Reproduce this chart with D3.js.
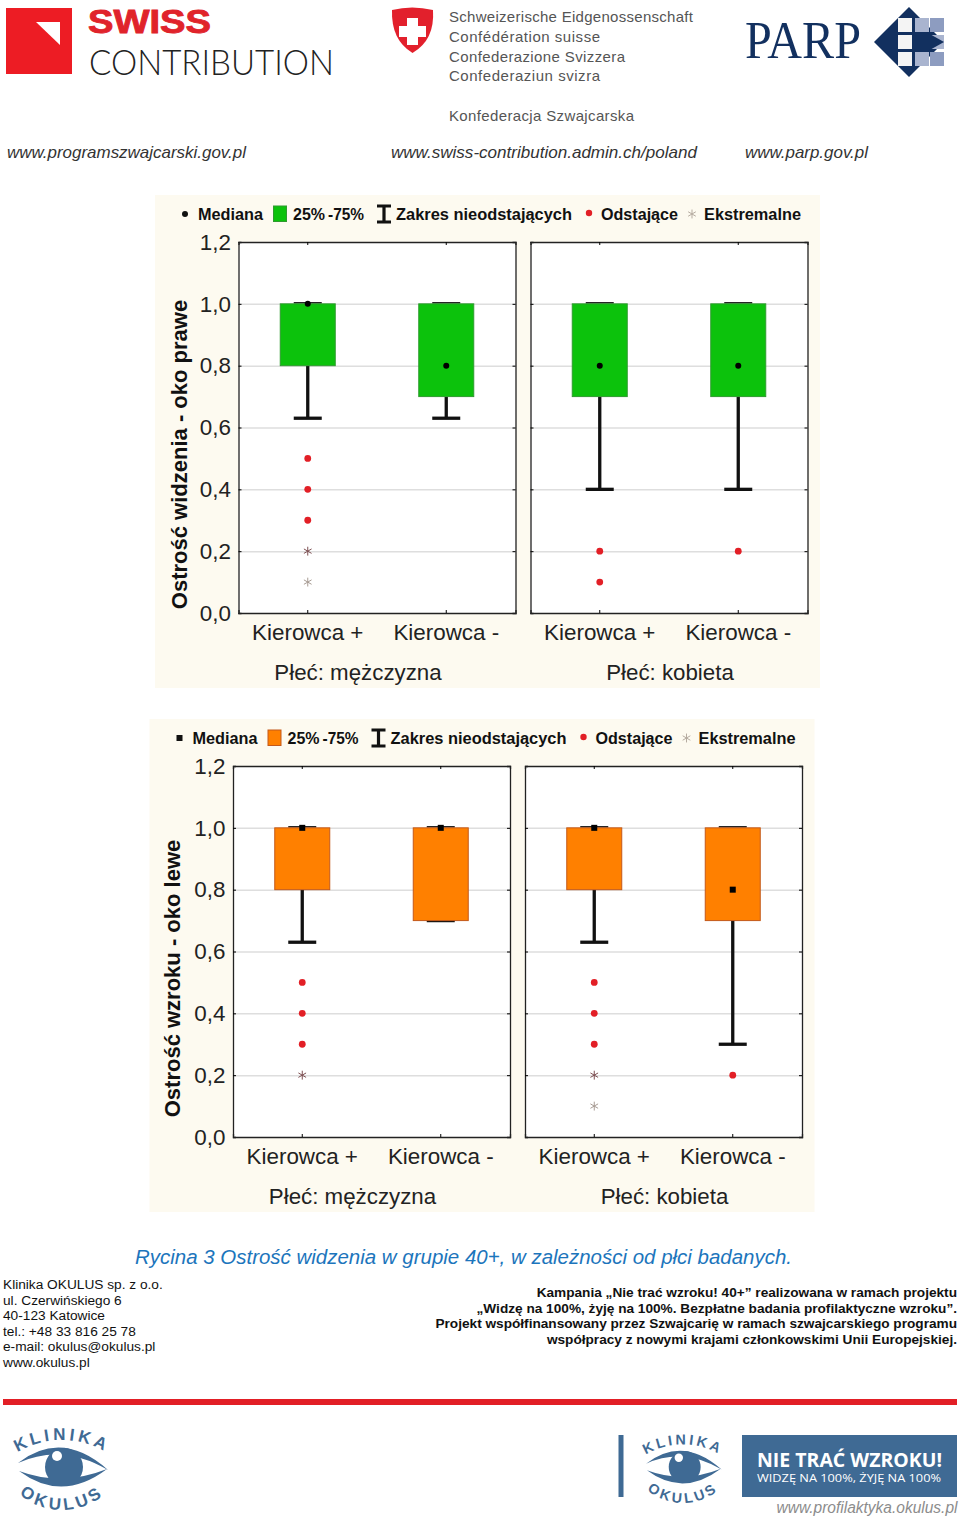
<!DOCTYPE html>
<html>
<head>
<meta charset="utf-8">
<script src="https://cdn.jsdelivr.net/npm/d3@7"></script>
<style>
  html, body { margin: 0; padding: 0; background: #fff; }
  svg { display: block; }
  text { font-family: "Liberation Sans", Arial, sans-serif; }
</style>
</head>
<body>
<svg width="960" height="1518"></svg>
<script>
const svg = d3.select('svg');

// categories and tick labels
const groups = ['Płeć: mężczyzna', 'Płeć: kobieta'];
const drivers = ['Kierowca +', 'Kierowca -'];
const yTicks = [0, 0.2, 0.4, 0.6, 0.8, 1.0, 1.2];

// right eye, order: men K+, men K-, women K+, women K-
const rightQ1 = [0.8, 0.7, 0.7, 0.7];
const rightQ3 = [1, 1, 1, 1];
const rightMedian = [1, 0.8, 0.8, 0.8];
const rightLow = [0.63, 0.63, 0.4, 0.4];
const rightHigh = [1, 1, 1, 1];
const rightOutliers = [[0.5, 0.4, 0.3], [], [0.2, 0.1], [0.2]];
const rightExtremes = [[0.2, 0.1], [], [], []];

// left eye
const leftQ1 = [0.8, 0.7, 0.8, 0.7];
const leftQ3 = [1, 1, 1, 1];
const leftMedian = [1, 1, 1, 0.8];
const leftLow = [0.63, 0.7, 0.63, 0.3];
const leftHigh = [1, 1, 1, 1];
const leftOutliers = [[0.5, 0.4, 0.3], [], [0.5, 0.4, 0.3], [0.2]];
const leftExtremes = [[0.2], [], [0.2, 0.1], []];

const addressLines = ['Klinika OKULUS sp. z o.o.', 'ul. Czerwińskiego 6', '40-123 Katowice',
  'tel.: +48 33 816 25 78', 'e-mail: okulus@okulus.pl', 'www.okulus.pl'];
const projectLines = ['Kampania „Nie trać wzroku! 40+” realizowana w ramach projektu',
  '„Widzę na 100%, żyję na 100%. Bezpłatne badania profilaktyczne wzroku”.',
  'Projekt współfinansowany przez Szwajcarię w ramach szwajcarskiego programu',
  'współpracy z nowymi krajami członkowskimi Unii Europejskiej.'];

const narrow = '"Liberation Sans Narrow", "Liberation Sans", sans-serif';
const red = '#e21f26', navy = '#3f6a94', parpBlue = '#12305f';

// text helper, len forces the width seen in the picture
const label = (parent, x, y, str, o = {}) => {
  const t = parent.append('text').attr('x', x).attr('y', y).text(str)
    .attr('font-size', o.size || 14)
    .attr('fill', o.fill || '#111')
    .attr('text-anchor', o.anchor || 'start');
  if (o.bold) t.attr('font-weight', 'bold');
  if (o.weight) t.attr('font-weight', o.weight);
  if (o.italic) t.attr('font-style', 'italic');
  if (o.family) t.style('font-family', o.family);
  if (o.len) t.attr('textLength', o.len).attr('lengthAdjust', o.adjust || 'spacingAndGlyphs');
  return t;
};

const innerW = 277, innerH = 371;

const yScale = d3.scaleLinear().domain([0, 1.2]).range([innerH, 0]);
const xScale = d3.scaleBand().domain(drivers).range([0, innerW]);
const fmt = (d) => d3.format('.1f')(d).replace('.', ',');

const asterisk = d3.symbol().type(d3.symbolAsterisk).size(55);

const drawChart = (root, s) => {
  root.append('rect').attr('x', 155).attr('y', 195).attr('width', 665).attr('height', 493).attr('fill', '#fdfaf0');

  // legend
  const ly = 219.5;
  const legend = root.append('g');
  legend.append(s.square ? 'rect' : 'circle')
    .attr(s.square ? 'x' : 'cx', s.square ? 182 : 185)
    .attr(s.square ? 'y' : 'cy', s.square ? 211 : 214)
    .attr(s.square ? 'width' : 'r', s.square ? 6 : 3)
    .attr(s.square ? 'height' : 'fill', s.square ? 6 : '#111')
    .attr('fill', '#111');
  label(legend, 198, ly, 'Mediana', { size: 16, bold: true, len: 65 });
  legend.append('rect').attr('x', 273.5).attr('y', 206).attr('width', 13).attr('height', 15.5).attr('fill', s.fill).attr('stroke', s.edge);
  label(legend, 293, ly, '25%', { size: 16, bold: true, len: 32 });
  label(legend, 328, ly, '-75%', { size: 16, bold: true, len: 36 });
  legend.append('path').attr('d', 'M377,206H391M384,206V222M377,222H391').attr('stroke', '#111').attr('stroke-width', 3.2).attr('fill', 'none');
  label(legend, 396, ly, 'Zakres nieodstających', { size: 16, bold: true, len: 176 });
  legend.append('circle').attr('cx', 589).attr('cy', 213).attr('r', 3.2).attr('fill', red);
  label(legend, 601, ly, 'Odstające', { size: 16, bold: true, len: 77 });
  legend.append('path').attr('d', asterisk()).attr('transform', 'translate(692,214)').attr('fill', 'none').attr('stroke', '#b5aba0').attr('stroke-width', 1);
  label(legend, 704, ly, 'Ekstremalne', { size: 16, bold: true, len: 97 });

  // y title
  label(root, 0, 0, s.title, { size: 22, bold: true, anchor: 'middle' })
    .attr('transform', `translate(${s.titleX},454.5) rotate(-90)`);

  groups.forEach((group, gi) => {
    const g = root.append('g').attr('transform', `translate(${gi === 0 ? 238.5 : 530.5},242)`);

    g.append('rect').attr('width', innerW).attr('height', innerH).attr('fill', '#fff');

    // grid
    g.append('g')
      .call(d3.axisLeft(yScale).tickValues(yTicks.slice(1, -1)).tickSize(-innerW).tickFormat(''))
      .call((a) => a.select('.domain').remove())
      .selectAll('line').attr('stroke', '#dedede').attr('stroke-width', 1.5);

    // boxes
    drivers.forEach((driver, di) => {
      const i = gi * 2 + di;
      const cx = xScale(driver) + xScale.bandwidth() / 2;
      const b = s.stats(i);

      g.append('line').attr('x1', cx).attr('x2', cx).attr('y1', yScale(b.q1)).attr('y2', yScale(b.low))
        .attr('stroke', '#111').attr('stroke-width', 3.3);
      g.append('line').attr('x1', cx - 14).attr('x2', cx + 14).attr('y1', yScale(b.low)).attr('y2', yScale(b.low))
        .attr('stroke', '#111').attr('stroke-width', 3.3);
      g.append('line').attr('x1', cx - 14).attr('x2', cx + 14).attr('y1', yScale(b.high) - 1).attr('y2', yScale(b.high) - 1)
        .attr('stroke', '#111').attr('stroke-width', 1.5);
      g.append('rect').attr('x', cx - 27.5).attr('width', 55)
        .attr('y', yScale(b.q3)).attr('height', yScale(b.q1) - yScale(b.q3))
        .attr('fill', s.fill).attr('stroke', s.edge).attr('stroke-width', 1);

      if (s.square) {
        g.append('rect').attr('x', cx - 3).attr('y', yScale(b.median) - 3).attr('width', 6).attr('height', 6).attr('fill', '#000');
      } else {
        g.append('circle').attr('cx', cx).attr('cy', yScale(b.median)).attr('r', 3).attr('fill', '#000');
      }

      g.selectAll(null).data(b.outliers).enter().append('circle')
        .attr('cx', cx).attr('cy', (d) => yScale(d)).attr('r', 3.4).attr('fill', red);
      g.selectAll(null).data(b.extremes).enter().append('path')
        .attr('d', asterisk()).attr('transform', (d) => `translate(${cx},${yScale(d)})`)
        .attr('fill', 'none').attr('stroke', (d) => (d > 0.15 ? '#7d4f52' : '#a89c94')).attr('stroke-width', 1);
    });

    // axes, short ticks point inwards
    const left = g.append('g').call(d3.axisLeft(yScale).tickValues(yTicks).tickSize(-3).tickPadding(7.5).tickFormat(fmt));
    if (gi > 0) left.selectAll('text').remove();
    g.append('g').attr('transform', `translate(${innerW},0)`)
      .call(d3.axisRight(yScale).tickValues(yTicks).tickSize(-3).tickFormat(''));
    g.append('g').call(d3.axisTop(xScale).tickSize(-3).tickFormat(''));
    g.append('g').attr('transform', `translate(0,${innerH})`)
      .call(d3.axisBottom(xScale).tickSize(-3).tickPadding(11));

    g.selectAll('.domain').attr('stroke', '#222').attr('stroke-width', 1.3);
    g.selectAll('.tick text').attr('font-size', 22.4).attr('fill', '#222')
      .style('font-family', '"Liberation Sans", sans-serif');

    label(g, innerW / 2 - (gi === 0 ? 19 : -1), 438, group, { size: 22.3, anchor: 'middle', fill: '#222' });
  });
};

const fromArrays = (q1, q3, med, low, high, out, ext) => (i) => ({
  q1: q1[i], q3: q3[i], median: med[i], low: low[i], high: high[i], outliers: out[i], extremes: ext[i],
});

drawChart(svg.append('g'), {
  title: 'Ostrość widzenia - oko prawe', fill: '#0cc20c', edge: '#2f9a2f', square: false, titleX: 186.5,
  stats: fromArrays(rightQ1, rightQ3, rightMedian, rightLow, rightHigh, rightOutliers, rightExtremes),
});
drawChart(svg.append('g').attr('transform', 'translate(-5.5,524)'), {
  title: 'Ostrość wzroku - oko lewe', fill: '#ff8000', edge: '#c4591a', square: true, titleX: 185.5,
  stats: fromArrays(leftQ1, leftQ3, leftMedian, leftLow, leftHigh, leftOutliers, leftExtremes),
});

// header logos
const head = svg.append('g');
head.append('rect').attr('x', 6).attr('y', 8).attr('width', 66).attr('height', 66).attr('fill', '#ed1c24');
head.append('path').attr('d', 'M36,22H60V45Z').attr('fill', '#fff');
label(head, 88, 32.5, 'SWISS', { size: 33, bold: true, fill: '#e0232b', len: 123 })
  .attr('stroke', '#e0232b').attr('stroke-width', 0.9);
label(head, 89, 75, 'CONTRIBUTION', { size: 34.5, weight: 300, fill: '#222', family: 'Lato, sans-serif', len: 245 });

head.append('path').attr('d', 'M392,10Q412,5 433,10Q435,40 412.5,53Q391,40 392,10Z').attr('fill', '#e2202c');
head.append('path').attr('d', 'M407,18H418V26H426V37H418V45H407V37H399V26H407Z').attr('fill', '#fff');
const federal = ['Schweizerische Eidgenossenschaft', 'Confédération suisse', 'Confederazione Svizzera', 'Confederaziun svizra'];
const federalLen = [244, 151, 176, 151];
federal.forEach((d, i) => label(head, 449, 22 + i * 19.8, d, { size: 15, fill: '#555', family: narrow, len: federalLen[i], adjust: 'spacing' }));
label(head, 449, 121, 'Konfederacja Szwajcarska', { size: 15, fill: '#555', family: narrow, len: 185, adjust: 'spacing' });

label(head, 745, 58, 'PARP', { size: 53, fill: parpBlue, family: '"Liberation Serif", serif', len: 116 });
head.append('path').attr('d', 'M909,7L874,42L909,77L944,42Z').attr('fill', parpBlue);
[[915, 18, '#a9b4cf'], [930, 18, '#8d9cc0'], [930, 35, '#a9b4cf'], [915, 52, '#a9b4cf'], [930, 52, '#8d9cc0']]
  .forEach(([x, y, c]) => head.append('rect').attr('x', x).attr('y', y).attr('width', 14).attr('height', 14).attr('fill', c));
[18, 35, 52].forEach((y) => head.append('rect').attr('x', 898).attr('y', y).attr('width', 14).attr('height', 14).attr('fill', '#f4f4f4'));
head.append('path').attr('d', 'M913,33H928L944,42L928,51H913Z').attr('fill', parpBlue);

const urlOpts = { size: 17, italic: true, fill: '#333', family: narrow };
label(head, 7, 158, 'www.programszwajcarski.gov.pl', { ...urlOpts, len: 239 });
label(head, 391, 158, 'www.swiss-contribution.admin.ch/poland', { ...urlOpts, len: 306 });
label(head, 745, 158, 'www.parp.gov.pl', { ...urlOpts, len: 123 });

// caption and footer
label(svg, 135, 1264, 'Rycina 3 Ostrość widzenia w grupie 40+, w zależności od płci badanych.', { size: 20.5, italic: true, fill: '#1c75bc', len: 657 });
addressLines.forEach((d, i) => label(svg, 3, 1289 + i * 15.6, d, { size: 13.7, fill: '#111' }));
projectLines.forEach((d, i) => label(svg, 957, 1297 + i * 15.7, d, { size: 13.65, bold: true, anchor: 'end', fill: '#111' }));

svg.append('rect').attr('x', 3).attr('y', 1399).attr('width', 954).attr('height', 6).attr('fill', red);

// eye logo, centred on 0,0
let eyeId = 0;
const eyeLogo = (x, y, k) => {
  const g = svg.append('g').attr('transform', `translate(${x},${y}) scale(${k})`);
  g.append('path').attr('d', 'M-44,-4Q0,-38 46,3Q0,-24 -44,-4Z').attr('fill', navy);
  g.append('path').attr('d', 'M-43,4Q0,36 45,2Q0,20 -43,4Z').attr('fill', navy);
  g.append('circle').attr('cx', 2).attr('cy', 0).attr('r', 19).attr('fill', navy);
  g.append('circle').attr('cx', -5).attr('cy', -11).attr('r', 5).attr('fill', '#fff');
  const arcs = [['KLINIKA', 'M-50,-11A86,86 0 0 1 50,-11'], ['OKULUS', 'M-50,20A66,66 0 0 0 50,20']];
  arcs.forEach(([str, d]) => {
    const id = `eye-arc-${eyeId++}`;
    g.append('path').attr('id', id).attr('d', d).attr('fill', 'none');
    g.append('text').attr('font-size', 17).attr('font-weight', 'bold').attr('fill', navy)
      .attr('letter-spacing', 3.5)
      .append('textPath').attr('href', `#${id}`).attr('startOffset', '50%').attr('text-anchor', 'middle').text(str);
  });
};
eyeLogo(62, 1467, 1);
eyeLogo(683, 1467, 0.84);

svg.append('rect').attr('x', 618.5).attr('y', 1435).attr('width', 5).attr('height', 62).attr('fill', navy);
svg.append('rect').attr('x', 742).attr('y', 1435).attr('width', 215).attr('height', 62).attr('fill', navy);
label(svg, 757, 1466.5, 'NIE TRAĆ WZROKU!', { size: 20, bold: true, fill: '#fff', family: '"Open Sans", sans-serif', len: 185 });
label(svg, 757, 1482, 'WIDZĘ NA 100%,  ŻYJĘ NA 100%', { size: 11.5, fill: '#fff', family: '"Open Sans", sans-serif', len: 184 });
label(svg, 776.5, 1513, 'www.profilaktyka.okulus.pl', { size: 16, italic: true, fill: '#8c8c8c', len: 181 });
</script>
</body>
</html>
